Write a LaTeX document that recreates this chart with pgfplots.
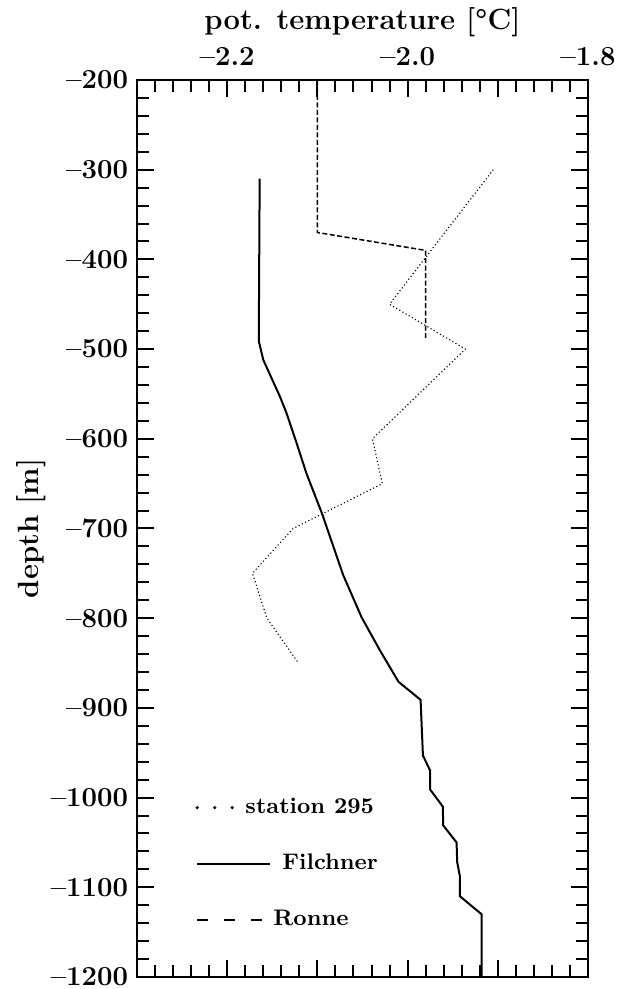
\documentclass[border=0pt]{standalone}
\usepackage{pgfplots}
\pgfplotsset{compat=1.18}

\begin{document}
\begin{tikzpicture}
\begin{axis}[
    scale only axis,
    width=180.4pt, height=358.8pt,
    at={(0,0)}, anchor=south west,
    xmin=-2.3, xmax=-1.8,
    ymin=-1200, ymax=-200,
    axis line style={line width=1.1pt},
    tick style={line width=0.8pt, black},
    tick align=inside,
    major tick length=6.8pt,
    minor tick length=4.8pt,
    xtick={-2.3,-2.2,-2.1,-2.0,-1.9,-1.8},
    xticklabels={,--2.2,,--2.0,,--1.8},
    minor x tick num=4,
    xticklabel pos=top,
    ytick={-1200,-1100,-1000,-900,-800,-700,-600,-500,-400,-300,-200},
    yticklabels={--1200,--1100,--1000,--900,--800,--700,--600,--500,--400,--300,--200},
    minor y tick num=4,
    tick label style={font=\bfseries\fontsize{11}{13}\selectfont},
    xticklabel style={yshift=2.2pt},
    xlabel={pot. temperature [\textdegree C]},
    ylabel={depth [m]},
    label style={font=\bfseries\fontsize{11.7}{14}\selectfont},
    xlabel style={at={(axis description cs:0.5,1)}, anchor=base, yshift=20pt},
    ylabel style={at={(axis description cs:0,0.5)}, anchor=center, yshift=42.4pt},
    legend style={draw=none, fill=none, inner sep=0pt,
        at={(axis description cs:0.1286,0.2057)}, anchor=north west,
        font=\bfseries\fontsize{9}{11}\selectfont,
        row sep=10.8pt, column sep=2.5pt},
    legend cell align=left,
]

% station 295
\addplot[black, line width=0.45pt, densely dotted,
    legend image code/.code={
        \path[draw=none] (0pt,0pt) -- (29.2pt,0pt);
        \draw[solid, line width=1.4pt, line cap=round, dash pattern=on 0pt off 7pt] (0pt,0pt) -- (14.2pt,0pt);
    }] coordinates {
    (-1.905,-300) (-2.020,-450) (-1.936,-500) (-2.039,-600) (-2.028,-650)
    (-2.127,-700) (-2.172,-750) (-2.156,-800) (-2.121,-850)
};
\addlegendentry{\hspace*{-14.8pt}station 295}

% Filchner
\addplot[black, line width=0.8pt, solid,
    legend image code/.code={
        \draw[line width=0.8pt] (0pt,0pt) -- (29.2pt,0pt);
    }] coordinates {
    (-2.164,-310) (-2.165,-491) (-2.160,-512) (-2.1415,-553) (-2.134,-572)
    (-2.123,-605) (-2.112,-639) (-2.095,-683) (-2.0714,-752) (-2.051,-799)
    (-2.0306,-836) (-2.010,-871) (-1.9856,-891) (-1.983,-953) (-1.975,-970)
    (-1.975,-991) (-1.961,-1010) (-1.9605,-1031) (-1.9457,-1050) (-1.945,-1072)
    (-1.942,-1088) (-1.942,-1110) (-1.918,-1130) (-1.918,-1200)
};
\addlegendentry{Filchner}

% Ronne
\addplot[black, line width=0.6pt, dash pattern=on 2pt off 1pt,
    legend image code/.code={
        \path[draw=none] (0pt,0pt) -- (29.2pt,0pt);
        \draw[line width=0.9pt, dash pattern=on 4.4pt off 6.4pt] (0pt,0pt) -- (26pt,0pt);
    }] coordinates {
    (-2.1,-200) (-2.1,-370) (-1.98,-390) (-1.98,-490)
};
\addlegendentry{\hspace*{-3.6pt}Ronne}

\end{axis}
\pgfresetboundingbox
\useasboundingbox ([shift={(-54.8pt,-4.8pt)}]current axis.south west)
    rectangle ([shift={(16pt,32.0pt)}]current axis.north east);
\end{tikzpicture}
\end{document}
